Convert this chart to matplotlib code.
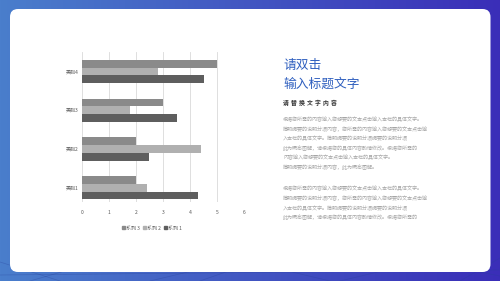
import numpy as np
import matplotlib
matplotlib.use("Agg")
import matplotlib.pyplot as plt
from matplotlib.patches import FancyBboxPatch, Patch

plt.rcParams['font.family'] = ['Noto Sans CJK SC', 'DejaVu Sans']

categories = ["类别1", "类别2", "类别3", "类别4"]
series1 = [4.3, 2.5, 3.5, 4.5]
series2 = [2.4, 4.4, 1.8, 2.8]
series3 = [2.0, 2.0, 3.0, 5.0]
series_names = ["系列 1", "系列 2", "系列 3"]
x_ticks = [0, 1, 2, 3, 4, 5, 6]

title1 = "请双击"
title2 = "输入标题文字"
subtitle = "请替换文字内容"
para1 = ["根据您所需的内容输入您想要的文本点击输入本栏的具体文字。",
         "简明扼要的说明分项内容，您所需的内容输入您想要的文本点击输",
         "入本栏的具体文字。简明扼要的说明分项扼要的说明分项",
         "此为概念图解，请根据您的具体内容酌情修改。根据您所需的",
         "内容输入您想要的文本点击输入本栏的具体文字。",
         "简明扼要的说明分项内容，此为概念图解。"]
para2 = para1[:4]

W, H = 500, 281
fig = plt.figure(figsize=(W / 100, H / 100), dpi=100)

# background gradient
bg = fig.add_axes([0, 0, 1, 1])
bg.set_xlim(0, W)
bg.set_ylim(H, 0)
bg.axis('off')
c_left = np.array([0x4a, 0x7e, 0xcc]) / 255
c_right = np.array([0x3a, 0x2e, 0xb8]) / 255
t = np.linspace(0, 1, 256)
grad = c_left[None, :] * (1 - t[:, None]) + c_right[None, :] * t[:, None]
img = np.tile(grad[None, :, :], (2, 1, 1))
bg.imshow(img, extent=[0, W, H, 0], aspect='auto', zorder=0)
# subtle architectural lines in the bottom band
for (x0, y0, x1, y1) in [(0, 262, 60, 281), (30, 281, 110, 258), (150, 281, 230, 262),
                         (250, 262, 330, 281), (340, 281, 420, 262), (430, 262, 500, 276),
                         (0, 275, 500, 270), (200, 281, 260, 260), (460, 281, 500, 258)]:
    bg.plot([x0, x1], [y0, y1], color=(0.15, 0.25, 0.6), lw=0.5, alpha=0.35, zorder=1)

card = FancyBboxPatch((10, 9), 480.5, 263, boxstyle="round,pad=0,rounding_size=8",
                      facecolor='white', edgecolor='none', zorder=2)
bg.add_patch(card)

# chart
left, right = 81.7, 244.3
top, bottom = 52, 202
ax = fig.add_axes([left / W, 1 - bottom / H, (right - left) / W, (bottom - top) / H])
ax.patch.set_alpha(0)
y = np.arange(len(categories))
h = 0.2
c1, c2, c3 = '#5e5e5e', '#b0b0b0', '#8a8a8a'
ax.barh(y - h, series1, height=h, color=c1, zorder=3)
ax.barh(y, series2, height=h, color=c2, zorder=3)
ax.barh(y + h, series3, height=h, color=c3, zorder=3)
ax.set_xlim(0, 6)
ax.set_ylim(-0.366, 3.5)
ax.set_xticks(x_ticks)
ax.set_xticklabels([str(v) for v in x_ticks])
ax.set_yticks(y)
ax.set_yticklabels(categories)
ax.tick_params(axis='both', length=0, labelsize=3.6, colors='#595959')
ax.tick_params(axis='x', pad=6)
ax.tick_params(axis='y', pad=2)
ax.grid(axis='x', color='#d9d9d9', lw=0.6, zorder=0)
for s in ax.spines.values():
    s.set_visible(False)

handles = [Patch(color=c3), Patch(color=c2), Patch(color=c1)]
labels = [series_names[2], series_names[1], series_names[0]]
fig.legend(handles, labels, ncol=3, loc='center', bbox_to_anchor=(152 / W, 1 - 228 / H),
           frameon=False, fontsize=3.6, handlelength=0.6, handleheight=0.6,
           handletextpad=0.3, columnspacing=0.5, labelcolor='#595959')

# right text
tx = 283 / W
blue = '#2f5fbf'
fig.text(tx, 1 - 65 / H, title1, fontsize=9.2, color=blue, va='center', ha='left')
fig.text(tx, 1 - 84 / H, title2, fontsize=9.2, color=blue, va='center', ha='left')
for i, ch in enumerate(subtitle):
    fig.text((283 + i * 7.9) / W, 1 - 102.5 / H, ch, fontsize=4.2, color='#333333',
             fontweight='bold', va='center', ha='left')
ys1 = [119, 129, 138.5, 148.2, 157.8, 167.5]
ys2 = [188.3, 198.3, 207.8, 217.3]
for yy, line in zip(ys1, para1):
    fig.text(tx, 1 - yy / H, line, fontsize=3.65, color='#a6a6a6', va='center', ha='left')
for yy, line in zip(ys2, para2):
    fig.text(tx, 1 - yy / H, line, fontsize=3.65, color='#a6a6a6', va='center', ha='left')

fig.savefig("out.png", dpi=100)
